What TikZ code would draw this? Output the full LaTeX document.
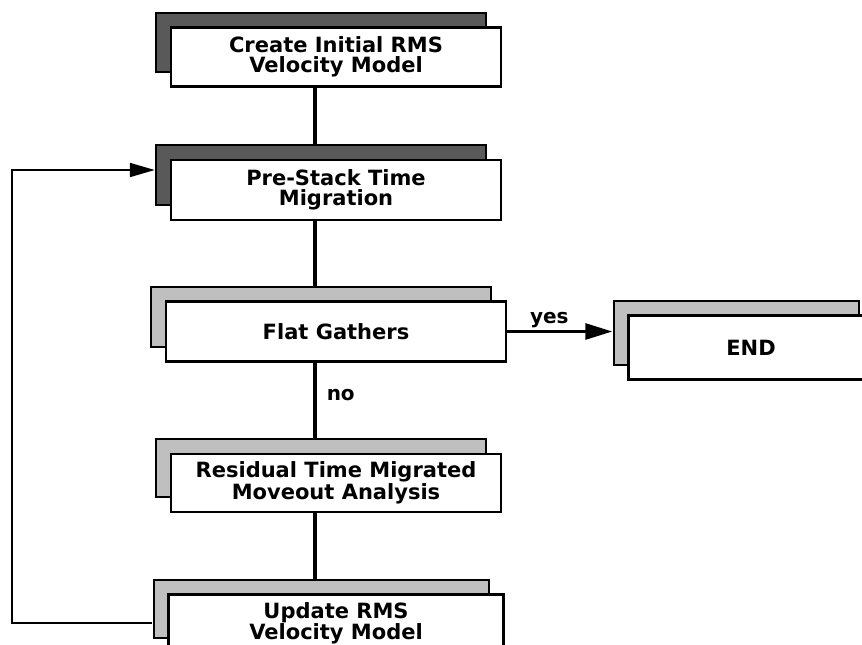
\documentclass[tikz,border=0pt]{standalone}
\usepackage{fontspec}
\setmainfont{DejaVu Sans}
\usetikzlibrary{positioning, shadows, arrows.meta, backgrounds}

\tikzset{
  stepbox/.style={rectangle, draw, line width=2.5pt, fill=white,
    minimum width=330pt, minimum height=60pt, inner sep=0pt,
    align=center, font=\bfseries\fontsize{21}{20}\selectfont},
  darkshadow/.style={copy shadow={shadow xshift=-15pt, shadow yshift=15pt,
    fill=black!65, draw=black, line width=2pt}},
  lightshadow/.style={copy shadow={shadow xshift=-15pt, shadow yshift=15pt,
    fill=black!25, draw=black, line width=2pt}},
  spine/.style={line width=3.5pt},
  flow/.style={line width=3pt, -{Triangle[length=27pt, width=16pt]}},
  loopline/.style={line width=2pt, -{Triangle[length=25pt, width=14pt]}},
  answer/.style={font=\bfseries\fontsize{20}{20}\selectfont, inner sep=2pt}
}

\begin{document}
\begin{tikzpicture}[x=1pt, y=-1pt, node distance=80pt]
    \useasboundingbox (0,0) rectangle (862,645);

    \node (init) [stepbox, darkshadow, minimum height=59pt] at (336,57) {Create Initial RMS\\Velocity Model};
    \node (mig) [below=71pt of init, stepbox, darkshadow] {Pre-Stack Time\\Migration};
    \node (flat) [below=79pt of mig, stepbox, lightshadow, minimum width=340pt] {Flat Gathers};
    \node (end) [right=120pt of flat, yshift=-16pt, stepbox, lightshadow, minimum width=245pt, minimum height=64pt] {END};
    \node (res) [below=90pt of flat, stepbox, lightshadow, minimum height=58pt] {Residual Time Migrated\\Moveout Analysis};
    \node (upd) [below=80pt of res, stepbox, lightshadow, minimum width=335pt, minimum height=58pt] {Update RMS\\Velocity Model};

    % ends on the shadow boxes
    \coordinate (endS) at ([xshift=-15pt]end.west);
    \coordinate (migS) at ([shift={(-15pt,20pt)}]mig.west);
    \coordinate (updS) at ([shift={(-15pt,1pt)}]upd.west);

    \begin{scope}[on background layer]
        \draw [spine] ([xshift=-21pt]init.center) -- ([xshift=-21pt]mig.center);
        \draw [spine] ([xshift=-21pt]mig.center) -- ([xshift=-21pt]flat.center);
        \draw [spine] ([xshift=-21pt]flat.center) -- ([xshift=-21pt]res.center)
              node [answer, right=8pt, pos=0.42] {no};
        \draw [spine] ([xshift=-21pt]res.center) -- ([xshift=-21pt]upd.center);
    \end{scope}

    \draw [flow] (flat.east) -- (flat.east -| endS) node [answer, above, pos=0.4] {yes};
    \draw [loopline] (updS) -- ++(-140pt,0pt) |- (migS);
\end{tikzpicture}
\end{document}
